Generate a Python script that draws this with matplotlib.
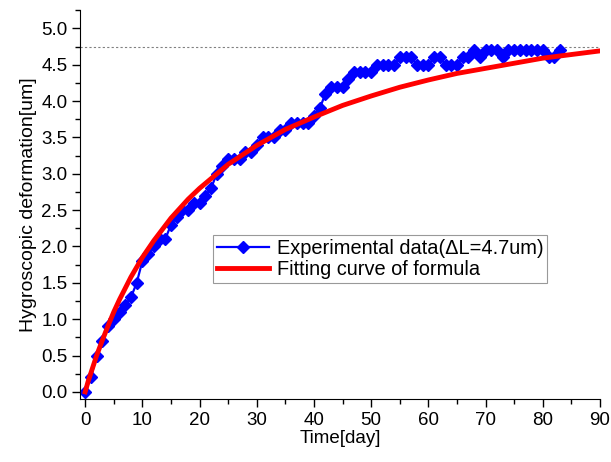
import matplotlib.pyplot as plt
from matplotlib.ticker import MultipleLocator

plt.rcParams['font.family'] = ['Liberation Sans', 'DejaVu Sans']

# experimental data, one reading per day
days = list(range(0, 84))
deform = [0.0, 0.2, 0.5, 0.7, 0.9, 1.0, 1.1, 1.2, 1.3, 1.5,
          1.8, 1.9, 2.0, 2.1, 2.1, 2.3, 2.4, 2.5, 2.5, 2.6,
          2.6, 2.7, 2.8, 3.0, 3.1, 3.2, 3.2, 3.2, 3.3, 3.3,
          3.4, 3.5, 3.5, 3.5, 3.6, 3.6, 3.7, 3.7, 3.7, 3.7,
          3.8, 3.9, 4.1, 4.2, 4.2, 4.2, 4.3, 4.4, 4.4, 4.4,
          4.4, 4.5, 4.5, 4.5, 4.5, 4.6, 4.6, 4.6, 4.5, 4.5,
          4.5, 4.6, 4.6, 4.5, 4.5, 4.5, 4.6, 4.6, 4.7, 4.6,
          4.7, 4.7, 4.7, 4.6, 4.7, 4.7, 4.7, 4.7, 4.7, 4.7,
          4.7, 4.6, 4.6, 4.7]

# fitted curve
fit_days = [0, 0.5, 1, 2, 3, 4, 5, 6, 8, 10, 12, 15, 18, 20, 25, 30, 35,
            40, 45, 50, 55, 60, 65, 70, 75, 80, 85, 90]
fit_vals = [0.0, 0.14, 0.26, 0.50, 0.71, 0.91, 1.10, 1.27, 1.58, 1.85,
            2.08, 2.39, 2.65, 2.80, 3.13, 3.39, 3.61, 3.78, 3.94, 4.07,
            4.19, 4.29, 4.38, 4.45, 4.52, 4.59, 4.64, 4.69]

dL = 4.75

fig = plt.figure(figsize=(6.11, 4.62), dpi=100)
ax = fig.add_axes([0.131, 0.136, 0.851, 0.842])

ax.axhline(dL, color='gray', linestyle=(0, (2, 2)), linewidth=0.8)
ax.plot(days, deform, c='blue', marker='D', markersize=6, linewidth=1.6,
        label='Experimental data(\u0394L=4.7um)')
ax.plot(fit_days, fit_vals, c='red', linewidth=3.5,
        label='Fitting curve of formula')

ax.set_xlim(-0.9, 90)
ax.set_ylim(-0.1, 5.25)
ax.xaxis.set_major_locator(MultipleLocator(10))
ax.xaxis.set_minor_locator(MultipleLocator(5))
ax.yaxis.set_major_locator(MultipleLocator(0.5))
ax.yaxis.set_minor_locator(MultipleLocator(0.25))
ax.yaxis.set_major_formatter('{x:.1f}')
ax.spines['top'].set_visible(False)
ax.spines['right'].set_visible(False)
ax.tick_params(which='major', length=6, width=1, labelsize=13.5, pad=3)
ax.tick_params(which='minor', length=3.5, width=1)

ax.set_xlabel('Time[day]', fontsize=13.5, labelpad=1)
ax.set_ylabel('Hygroscopic deformation[um]', fontsize=14, labelpad=3)

leg = ax.legend(loc='lower left', bbox_to_anchor=(0.255, 0.298), fontsize=14.4,
                numpoints=1, handlelength=2.6, fancybox=False, borderpad=0.2,
                labelspacing=0.1, handletextpad=0.4, borderaxespad=0)
leg.get_frame().set_edgecolor('gray')
leg.get_frame().set_linewidth(0.8)

plt.savefig('out.png', dpi=100)
